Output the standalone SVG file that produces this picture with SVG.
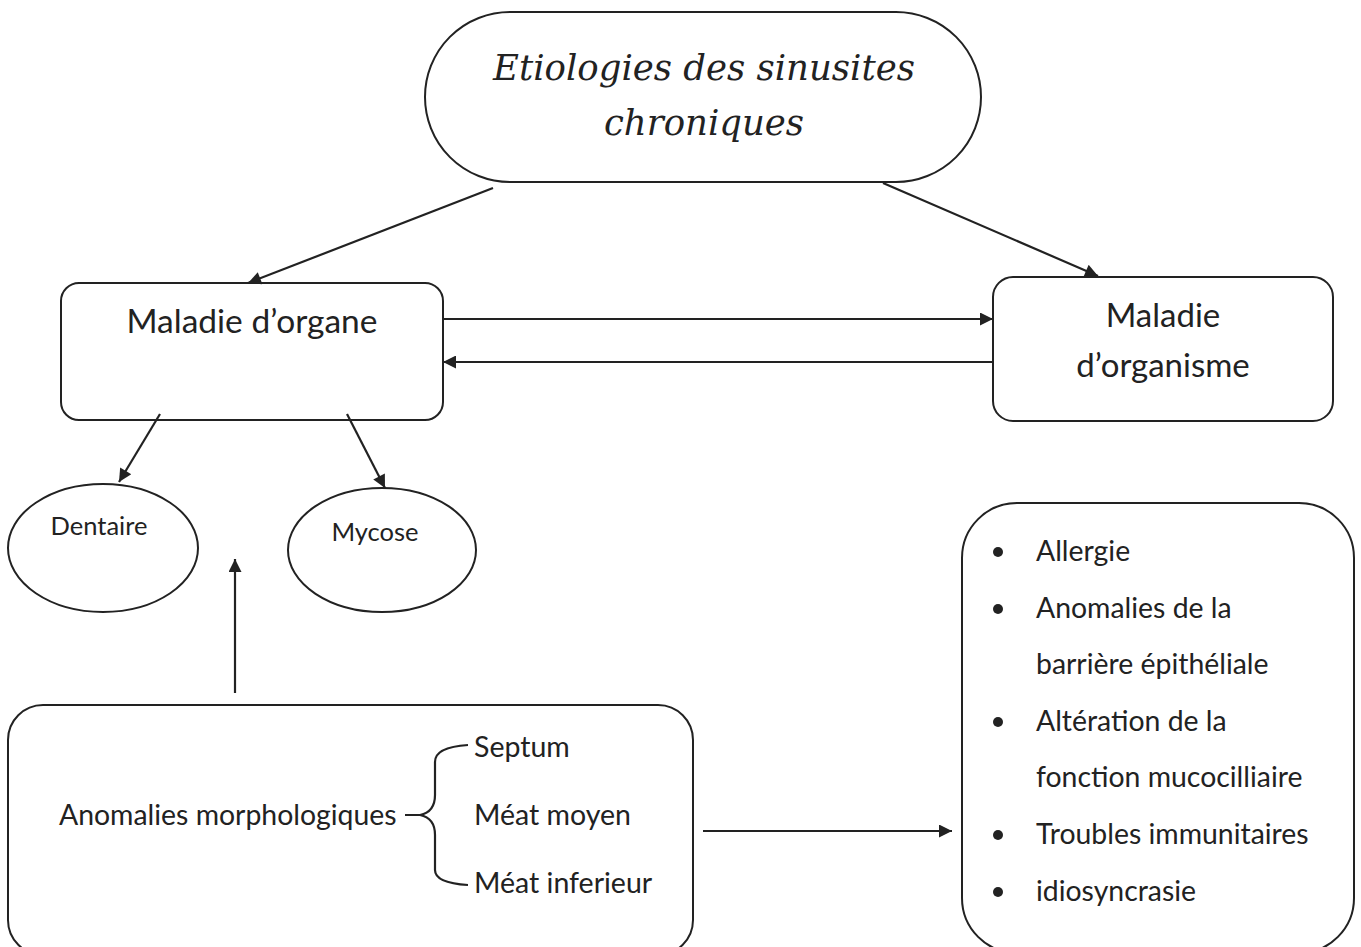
<svg xmlns="http://www.w3.org/2000/svg" width="1361" height="947" viewBox="0 0 1361 947">
<style>
.box{fill:#fff;stroke:#222;stroke-width:2}
.t{font-family:Lato,"Open Sans",sans-serif;fill:#222}
.title{font-family:"DejaVu Serif","Liberation Serif",serif;font-style:italic;fill:#222;font-size:35.5px}
.c{stroke:#222;stroke-width:2.2;fill:none}
</style>
<defs>
<marker id="ah" viewBox="0 0 10 10" refX="10" refY="5" markerWidth="16" markerHeight="13" markerUnits="userSpaceOnUse" orient="auto">
<path d="M0,0 L10,5 L0,10 z" fill="#222"/>
</marker>
</defs>
<rect width="1361" height="947" fill="#fff"/>
<g id="title">
<rect class="box" x="425" y="12" width="556" height="170" rx="85"/>
<text class="title" x="704" y="80" text-anchor="middle">Etiologies des sinusites</text>
<text class="title" x="704" y="135" text-anchor="middle">chroniques</text>
</g>
<g id="organe">
<rect class="box" x="61" y="283" width="382" height="137" rx="18"/>
<text class="t" x="252" y="333" font-size="33.5" text-anchor="middle">Maladie d’organe</text>
</g>
<g id="organisme">
<rect class="box" x="993" y="277" width="340" height="144" rx="20"/>
<text class="t" x="1163" y="327" font-size="33" text-anchor="middle">Maladie</text>
<text class="t" x="1163" y="377" font-size="33" text-anchor="middle">d’organisme</text>
</g>
<g id="dentaire">
<ellipse class="box" cx="103" cy="548" rx="95" ry="64"/>
<text class="t" x="99" y="535" font-size="25.5" text-anchor="middle">Dentaire</text>
</g>
<g id="mycose">
<ellipse class="box" cx="382" cy="550" rx="94" ry="62"/>
<text class="t" x="375" y="541" font-size="25.5" text-anchor="middle">Mycose</text>
</g>
<g id="morpho">
<rect class="box" x="8" y="705" width="685" height="250" rx="35"/>
<text class="t" x="59" y="825" font-size="28.4">Anomalies morphologiques</text>
<path class="c" d="M405,815 L420,815 Q435,812 435,795 L435,762 Q435,747 468,745 M420,815 Q435,818 435,835 L435,870 Q435,883 468,885"/>
<text class="t" x="474" y="757" font-size="28.5">Septum</text>
<text class="t" x="474" y="825" font-size="28.5">Méat moyen</text>
<text class="t" x="474" y="893" font-size="28.5">Méat inferieur</text>
</g>
<g id="systemique">
<rect class="box" x="962" y="503" width="392" height="450" rx="55"/>
<g fill="#222">
<circle cx="998" cy="552" r="5"/>
<circle cx="998" cy="609" r="5"/>
<circle cx="998" cy="722" r="5"/>
<circle cx="998" cy="835" r="5"/>
<circle cx="998" cy="892" r="5"/>
</g>
<text class="t" font-size="28.4">
<tspan x="1036" y="561">Allergie</tspan>
<tspan x="1036" y="618">Anomalies de la</tspan>
<tspan x="1036" y="674">barrière épithéliale</tspan>
<tspan x="1036" y="731">Altération de la</tspan>
<tspan x="1036" y="787">fonction mucocilliaire</tspan>
<tspan x="1036" y="844">Troubles immunitaires</tspan>
<tspan x="1036" y="901">idiosyncrasie</tspan>
</text>
</g>
<g id="connectors">
<line class="c" x1="493" y1="188" x2="248" y2="283" marker-end="url(#ah)"/>
<line class="c" x1="883" y1="183" x2="1098" y2="276" marker-end="url(#ah)"/>
<line class="c" x1="443" y1="319" x2="993" y2="319" marker-end="url(#ah)"/>
<line class="c" x1="993" y1="362" x2="443" y2="362" marker-end="url(#ah)"/>
<line class="c" x1="160" y1="414" x2="119" y2="482" marker-end="url(#ah)"/>
<line class="c" x1="347" y1="414" x2="385" y2="488" marker-end="url(#ah)"/>
<line class="c" x1="235" y1="693" x2="235" y2="559" marker-end="url(#ah)"/>
<line class="c" x1="703" y1="831" x2="952" y2="831" marker-end="url(#ah)"/>
</g>
</svg>
